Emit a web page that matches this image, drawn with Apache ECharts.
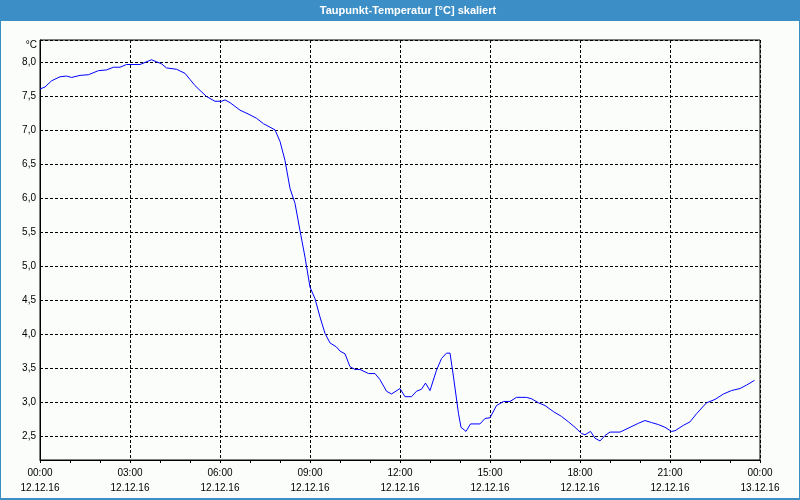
<!DOCTYPE html>
<html><head><meta charset="utf-8">
<script src="https://cdn.jsdelivr.net/npm/echarts@6/dist/echarts.min.js"></script>
<style>html,body{margin:0;padding:0;background:#fbfdfb}#c{width:800px;height:500px}</style>
</head><body><div id="c"></div>
<script>
const titleText = 'Taupunkt-Temperatur [°C] skaliert';
const unitLabel = '°C';
// minutes since 12.12.16 00:00
const minutes = [0,10,23,40,53,63,80,97,117,133,147,160,173,200,210,223,233,243,253,273,290,300,310,320,333,350,363,370,380,400,420,433,447,470,480,490,500,510,520,530,540,550,560,570,580,593,600,610,620,630,640,657,670,680,693,703,720,730,743,753,763,771,780,793,803,813,820,827,837,842,852,861,880,890,900,913,927,940,953,973,983,997,1010,1027,1043,1057,1070,1083,1090,1101,1110,1120,1130,1140,1160,1180,1197,1210,1223,1237,1250,1263,1270,1287,1300,1313,1333,1350,1367,1383,1400,1413,1429];
const dewpoint = [7.60,7.63,7.72,7.78,7.79,7.77,7.80,7.81,7.87,7.88,7.92,7.92,7.96,7.96,7.99,8.03,8.00,7.97,7.91,7.89,7.83,7.74,7.65,7.58,7.49,7.42,7.42,7.44,7.40,7.29,7.22,7.17,7.09,7.00,6.83,6.55,6.14,5.92,5.52,5.13,4.69,4.52,4.25,4.01,3.87,3.81,3.75,3.71,3.52,3.48,3.48,3.42,3.42,3.33,3.16,3.12,3.20,3.08,3.08,3.16,3.19,3.28,3.17,3.47,3.64,3.72,3.72,3.37,2.83,2.63,2.57,2.68,2.68,2.76,2.77,2.95,3.01,3.01,3.07,3.07,3.05,2.99,2.95,2.86,2.79,2.71,2.63,2.54,2.52,2.57,2.47,2.43,2.51,2.56,2.56,2.63,2.69,2.73,2.70,2.67,2.63,2.57,2.58,2.66,2.71,2.83,2.99,3.04,3.12,3.17,3.20,3.25,3.32];
const xTickLabels = ['00:00\n12.12.16','03:00\n12.12.16','06:00\n12.12.16','09:00\n12.12.16','12:00\n12.12.16','15:00\n12.12.16','18:00\n12.12.16','21:00\n12.12.16','00:00\n13.12.16'];
const yMin = 2.15, yMax = 8.32;

const font = 'Liberation Sans';
const chart = echarts.init(document.getElementById('c'), null, {renderer:'canvas'});
chart.setOption({
  backgroundColor: '#fbfdfb',
  animation: false,
  graphic: [
    {type:'rect', shape:{x:0,y:0,width:800,height:21}, style:{fill:'#3c8fc6'}, z:10},
    {type:'rect', shape:{x:0,y:0,width:1,height:500}, style:{fill:'#3c8fc6'}, z:10},
    {type:'rect', shape:{x:799,y:0,width:1,height:500}, style:{fill:'#3c8fc6'}, z:10},
    {type:'rect', shape:{x:0,y:498,width:800,height:2}, style:{fill:'#3c8fc6'}, z:10},
    {type:'text', x:408, y:11, z:11, style:{text:titleText, fill:'#ffffff', font:'bold 11px "Liberation Sans"', textAlign:'center', textVerticalAlign:'middle'}},
    {type:'text', x:37, y:45, z:11, style:{text:unitLabel, fill:'#000000', font:'10px "Liberation Sans"', textAlign:'right', textVerticalAlign:'middle'}}
  ],
  grid: {left:40, right:40, top:40, bottom:40, show:true, borderColor:'#000', borderWidth:1, backgroundColor:'transparent'},
  xAxis: {
    type:'value', min:0, max:1440, interval:180,
    axisLine:{show:true, lineStyle:{color:'#000', width:1}},
    axisTick:{show:true, inside:false, length:3, lineStyle:{color:'#000'}},
    minorTick:{show:true, splitNumber:3, length:3, lineStyle:{color:'#000'}},
    splitLine:{show:true, lineStyle:{color:'#000', type:[3,2], width:1}},
    axisLabel:{margin:6, color:'#000', fontFamily:font, fontSize:10, lineHeight:15,
      formatter:(v)=>{ const i=Math.round(v/180); return xTickLabels[i]||''; }}
  },
  yAxis: {
    type:'value', min:yMin, max:yMax, splitNumber:12,
    axisLine:{show:true, lineStyle:{color:'#000', width:1}},
    axisTick:{show:false},
    splitLine:{show:true, lineStyle:{color:'#000', type:[3,2], width:1}},
    axisLabel:{margin:4, color:'#000', fontFamily:font, fontSize:10, showMinLabel:false, showMaxLabel:false,
      formatter:(v)=>{ if (Math.abs(v*2-Math.round(v*2))>1e-6) return ''; return v.toFixed(1).replace('.',','); }}
  },
  series: [{
    type:'line', showSymbol:false, smooth:false,
    lineStyle:{color:'#0000ff', width:1},
    data: minutes.map((m,i)=>[m, dewpoint[i]])
  }]
});
</script></body></html>
